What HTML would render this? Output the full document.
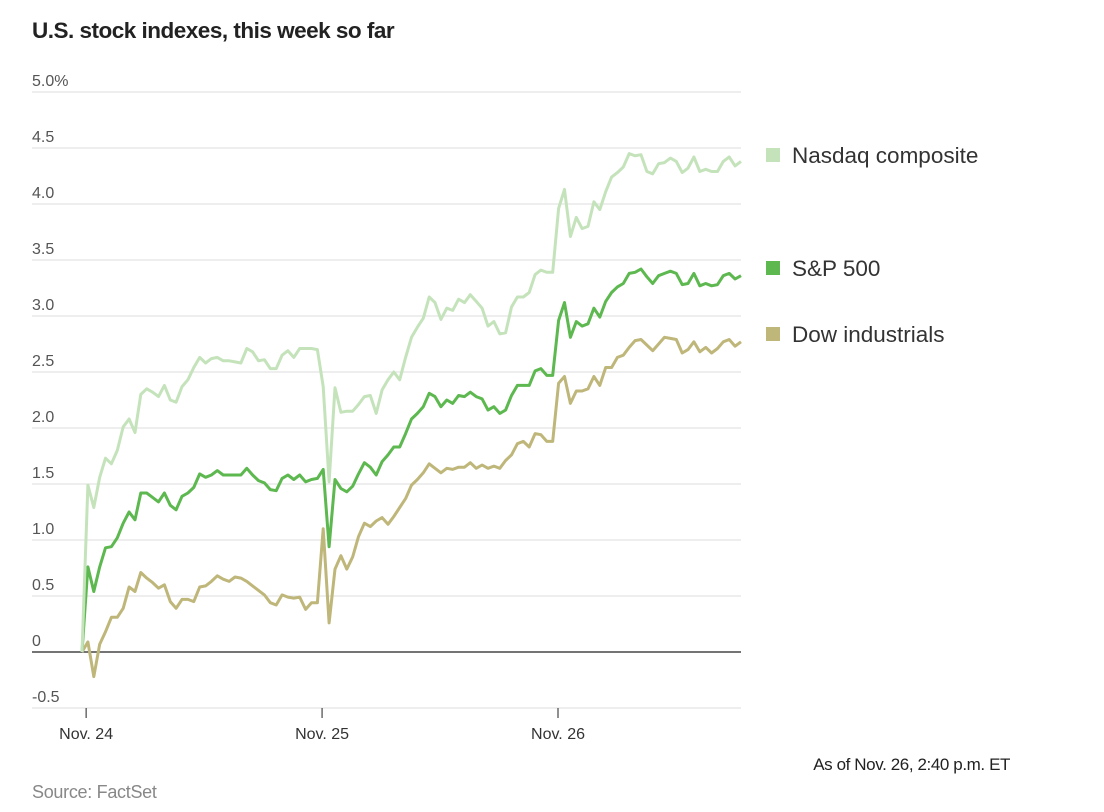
<!DOCTYPE html>
<html><head><meta charset="utf-8"><style>
html,body{margin:0;padding:0;background:#fff;}
body{width:1104px;height:807px;overflow:hidden;font-family:"Liberation Sans",sans-serif;}
svg text{font-family:"Liberation Sans",sans-serif;}
</style></head><body>
<svg id="chart" width="1104" height="807" viewBox="0 0 1104 807" xmlns="http://www.w3.org/2000/svg">
<text x="32" y="38" font-size="22.5" font-weight="bold" fill="#222" letter-spacing="-0.5">U.S. stock indexes, this week so far</text>
<g id="grid"></g><g id="lines"></g><g id="legend"></g>
<text x="1010" y="770" font-size="17" fill="#222" text-anchor="end" letter-spacing="-0.4">As of Nov. 26, 2:40 p.m. ET</text>
<text x="32" y="798" font-size="18" fill="#888" letter-spacing="-0.3">Source: FactSet</text>
</svg>
<script>
const yTicks=[-0.5,0,0.5,1.0,1.5,2.0,2.5,3.0,3.5,4.0,4.5,5.0];
const yTickLabels=["-0.5","0","0.5","1.0","1.5","2.0","2.5","3.0","3.5","4.0","4.5","5.0%"];
const dateTicks=[0.7,40.8,80.9];
const dateLabels=["Nov. 24","Nov. 25","Nov. 26"];
const seriesNames=["Nasdaq composite","S&P 500","Dow industrials"];
const nasdaq=[0,1.49,1.29,1.56,1.73,1.68,1.80,2.01,2.08,1.96,2.30,2.35,2.32,2.28,2.38,2.25,2.23,2.37,2.43,2.54,2.63,2.58,2.62,2.63,2.60,2.60,2.59,2.58,2.71,2.68,2.60,2.61,2.53,2.53,2.65,2.69,2.63,2.71,2.71,2.71,2.70,2.37,
1.52,2.36,2.14,2.15,2.15,2.21,2.28,2.29,2.13,2.34,2.43,2.50,2.43,2.63,2.81,2.90,2.98,3.17,3.12,2.97,3.07,3.05,3.15,3.12,3.19,3.13,3.07,2.91,2.95,2.84,2.85,3.08,3.17,3.17,3.21,3.37,3.41,3.39,3.39,
3.96,4.13,3.71,3.88,3.78,3.80,4.02,3.95,4.11,4.24,4.28,4.33,4.45,4.43,4.44,4.29,4.27,4.36,4.37,4.41,4.38,4.28,4.32,4.42,4.29,4.31,4.29,4.29,4.38,4.42,4.34,4.38];
const sp500=[0,0.76,0.54,0.76,0.93,0.94,1.02,1.15,1.25,1.18,1.42,1.42,1.38,1.34,1.42,1.31,1.27,1.39,1.42,1.47,1.59,1.56,1.58,1.62,1.58,1.58,1.58,1.58,1.64,1.58,1.53,1.51,1.45,1.44,1.55,1.58,1.54,1.58,1.52,1.54,1.55,1.63,
0.94,1.54,1.46,1.43,1.48,1.59,1.69,1.65,1.58,1.70,1.76,1.83,1.83,1.95,2.08,2.13,2.19,2.31,2.28,2.19,2.25,2.22,2.29,2.28,2.32,2.28,2.26,2.16,2.19,2.13,2.16,2.29,2.38,2.38,2.38,2.51,2.53,2.47,2.47,
2.96,3.12,2.81,2.95,2.91,2.93,3.07,2.99,3.13,3.21,3.26,3.29,3.38,3.39,3.42,3.35,3.29,3.36,3.38,3.40,3.38,3.28,3.29,3.38,3.27,3.29,3.27,3.28,3.36,3.38,3.33,3.36];
const dow=[0,0.09,-0.22,0.07,0.18,0.31,0.31,0.39,0.58,0.54,0.71,0.66,0.62,0.57,0.60,0.45,0.39,0.47,0.47,0.45,0.58,0.59,0.63,0.68,0.65,0.63,0.67,0.66,0.63,0.59,0.55,0.51,0.44,0.42,0.51,0.49,0.48,0.49,0.38,0.44,0.44,1.10,
0.26,0.74,0.86,0.74,0.85,1.03,1.15,1.12,1.17,1.20,1.14,1.21,1.29,1.37,1.49,1.54,1.60,1.68,1.64,1.60,1.64,1.63,1.65,1.65,1.69,1.64,1.67,1.64,1.66,1.64,1.71,1.76,1.86,1.88,1.83,1.95,1.94,1.88,1.88,
2.40,2.46,2.22,2.33,2.33,2.35,2.46,2.38,2.54,2.54,2.63,2.65,2.72,2.78,2.79,2.74,2.69,2.75,2.81,2.80,2.79,2.67,2.70,2.77,2.68,2.72,2.67,2.71,2.77,2.79,2.73,2.77];

const NS="http://www.w3.org/2000/svg";
const X0=82,XN=741,NPTS=113;
function xs(k){return X0+k*(XN-X0)/(NPTS-1);}
function ys(v){return 652-v*112;}
function mk(tag,attrs,parent){const e=document.createElementNS(NS,tag);for(const a in attrs)e.setAttribute(a,attrs[a]);parent.appendChild(e);return e;}
const grid=document.getElementById('grid');
yTicks.forEach((t,i)=>{
  const l=mk('line',{x1:32,x2:741,y1:ys(t),y2:ys(t),stroke:t===0?'#222':'#dcdcdc','stroke-width':t===0?1.2:1},grid);
  
  
  const tx=mk('text',{x:32,y:ys(t)-6,'font-size':16,fill:'#555'},grid);
  tx.textContent=yTickLabels[i];
  
  
});
dateTicks.forEach((d,i)=>{
  const x=xs(d);
  const l=mk('line',{x1:x,x2:x,y1:708,y2:718,stroke:'#222','stroke-width':1},grid);
  
  
  const tx=mk('text',{x:x,y:739,'font-size':16,fill:'#333','text-anchor':'middle'},grid);
  tx.textContent=dateLabels[i];
  
  
});
const colors=['#c4e3bb','#5cb84f','#bfb67a'];
const data=[nasdaq,sp500,dow];
const lines=document.getElementById('lines');
[2,1,0].forEach(s=>{
  const d=data[s].map((v,k)=>(k?'L':'M')+xs(k).toFixed(1)+','+ys(v).toFixed(1)).join('');
  const p=mk('path',{d:d,fill:'none',stroke:colors[s],'stroke-width':3,'stroke-linejoin':'round'},lines);
  
  
});
const legend=document.getElementById('legend');
const ly=[156,269,335];
seriesNames.forEach((n,i)=>{
  const r=mk('rect',{x:766,y:ly[i]-8,width:14,height:14,fill:colors[i]},legend);
  
  
  const t=mk('text',{x:792,y:ly[i]+7,'font-size':22.5,fill:'#333'},legend);
  t.textContent=n;
  
  
});
</script>
</body></html>
